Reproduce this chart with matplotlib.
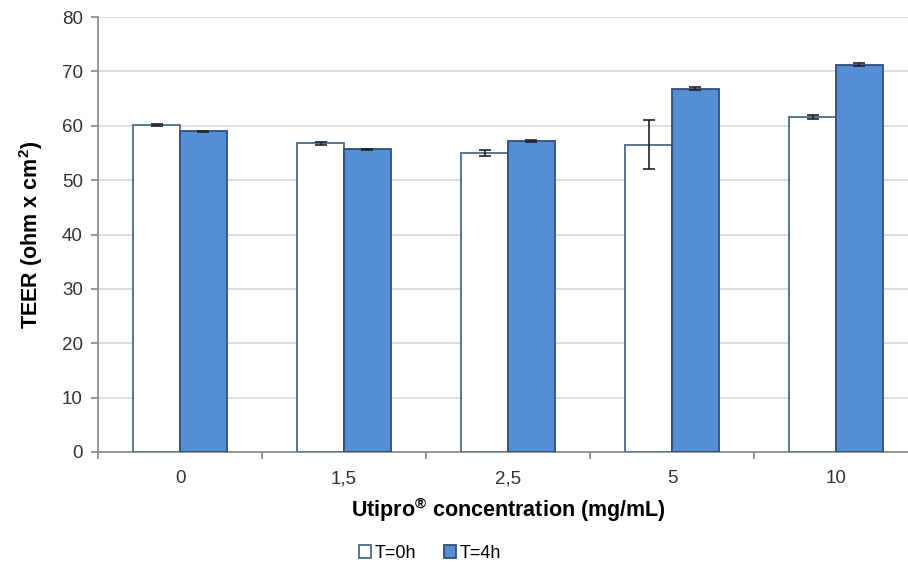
import matplotlib
matplotlib.use("Agg")
import matplotlib.pyplot as plt
import numpy as np

categories = ["0", "1,5", "2,5", "5", "10"]
t0_values = [60.1, 56.8, 55.0, 56.5, 61.6]
t0_errors = [0.15, 0.3, 0.5, 4.5, 0.3]
t4_values = [59.0, 55.7, 57.2, 66.8, 71.2]
t4_errors = [0.1, 0.1, 0.15, 0.3, 0.3]
series_names = ["T=0h", "T=4h"]
y_ticks = [0, 10, 20, 30, 40, 50, 60, 70, 80]

plt.rcParams['font.family'] = ['Liberation Sans', 'DejaVu Sans']
plt.rcParams['mathtext.fontset'] = 'custom'
plt.rcParams['mathtext.rm'] = 'Liberation Sans'
plt.rcParams['mathtext.bf'] = 'Liberation Sans:bold'
plt.rcParams['mathtext.default'] = 'bf'

fig = plt.figure(figsize=(9.08, 5.72), dpi=100)
W, H = 908, 572
left, right, bottom, top = 98, 918, 452, 17
ax = fig.add_axes([left / W, 1 - bottom / H, (right - left) / W, (bottom - top) / H])

x = np.arange(len(categories))
w = 0.285
err_kw = dict(ecolor="#222222", elinewidth=1.2, capsize=4, capthick=1.2)
ax.bar(x - w / 2, t0_values, w, yerr=t0_errors, color="white", edgecolor="#4A6A90",
       linewidth=1.3, label=series_names[0], error_kw=err_kw, zorder=3)
ax.bar(x + w / 2, t4_values, w, yerr=t4_errors, color="#558ED5", edgecolor="#2F4F7A",
       linewidth=1.3, label=series_names[1], error_kw=err_kw, zorder=3)

ax.set_xlim(-0.5, len(categories) - 0.5)
ax.set_ylim(0, 80)
ax.set_yticks(y_ticks)
ax.yaxis.grid(True, color="#D9D9D9", linewidth=1.2, zorder=0)
ax.set_axisbelow(True)

ax.set_xticks(x)
ax.set_xticklabels(categories)
ax.set_xticks(np.arange(len(categories) + 1) - 0.5, minor=True)
ax.tick_params(axis="x", which="major", length=0, pad=13, labelsize=13.5, labelcolor="#333333")
ax.tick_params(axis="x", which="minor", length=5, color="#868686", width=1.2)
ax.tick_params(axis="y", length=5, color="#868686", width=1.2, labelsize=13.5,
               labelcolor="#333333", pad=6)

for s in ["top", "right"]:
    ax.spines[s].set_visible(False)
for s in ["left", "bottom"]:
    ax.spines[s].set_color("#868686")
    ax.spines[s].set_linewidth(1.2)

ax.set_ylabel("TEER (ohm x cm$^{2}$)", fontsize=15.5, fontweight="bold", labelpad=12)
ax.set_xlabel("Utipro$^{®}$ concentration (mg/mL)", fontsize=15.5,
              fontweight="bold", labelpad=6)

fig.legend(loc="center", bbox_to_anchor=(430 / W, 1 - 553 / H), ncol=2, frameon=False,
           fontsize=13, handlelength=0.7, handleheight=0.7, handletextpad=0.2,
           columnspacing=1.5)

fig.savefig("out.png", dpi=100)
